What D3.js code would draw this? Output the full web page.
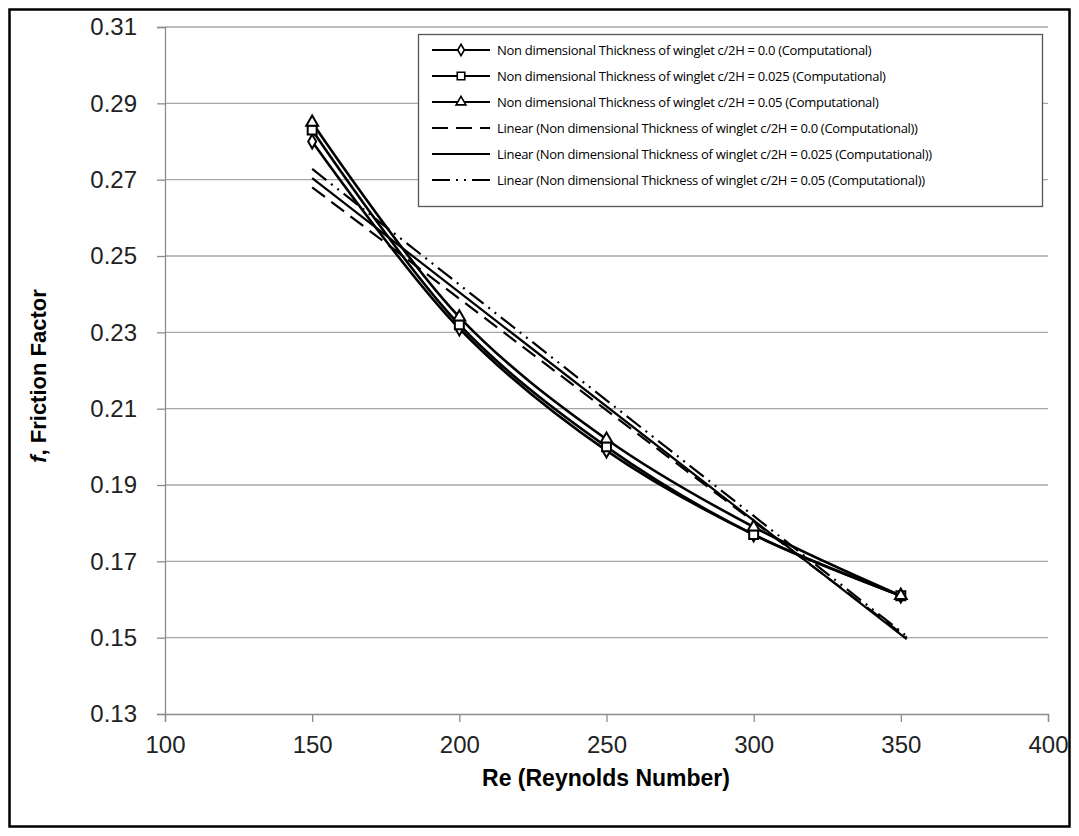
<!DOCTYPE html>
<html>
<head>
<meta charset="utf-8">
<script src="https://cdn.jsdelivr.net/npm/d3@7"></script>
<style>
  body { margin: 0; background: #fff; }
  svg { display: block; }
</style>
</head>
<body>
<div id="chart"></div>
<script>
// frame constants
const FRAME_WIDTH = 1079;
const FRAME_HEIGHT = 836;
const MARGINS = {left: 165, right: 31, top: 27, bottom: 122};

const VIS_WIDTH = FRAME_WIDTH - MARGINS.left - MARGINS.right;
const VIS_HEIGHT = FRAME_HEIGHT - MARGINS.top - MARGINS.bottom;

// data
const reynolds = [150, 200, 250, 300, 350];
const f_c000 = [0.280, 0.231, 0.199, 0.177, 0.161];
const f_c025 = [0.283, 0.232, 0.200, 0.177, 0.161];
const f_c050 = [0.285, 0.234, 0.202, 0.179, 0.161];

const xTicks = [100, 150, 200, 250, 300, 350, 400];
const yTicks = [0.13, 0.15, 0.17, 0.19, 0.21, 0.23, 0.25, 0.27, 0.29, 0.31];

const seriesNames = [
  "Non dimensional Thickness of winglet c/2H = 0.0 (Computational)",
  "Non dimensional Thickness of winglet c/2H = 0.025 (Computational)",
  "Non dimensional Thickness of winglet c/2H = 0.05 (Computational)"
];
const markers = ["diamond", "square", "triangle"];
const trendDash = ["16,8", null, "18,6,2,6,2,6"];

const FRAME = d3.select("#chart")
  .append("svg")
  .attr("width", FRAME_WIDTH)
  .attr("height", FRAME_HEIGHT);

// outer border
FRAME.append("rect")
  .attr("x", 9.5).attr("y", 9.5)
  .attr("width", FRAME_WIDTH - 19).attr("height", FRAME_HEIGHT - 19)
  .attr("fill", "none").attr("stroke", "#000").attr("stroke-width", 2.5);

const X_SCALE = d3.scaleLinear().domain([100, 400]).range([0, VIS_WIDTH]);
const Y_SCALE = d3.scaleLinear().domain([0.13, 0.31]).range([VIS_HEIGHT, 0]);

const G = FRAME.append("g")
  .attr("transform", "translate(" + MARGINS.left + "," + MARGINS.top + ")");

// gridlines
G.selectAll(".grid")
  .data(yTicks.slice(1))
  .enter()
  .append("line")
    .attr("x1", 0).attr("x2", VIS_WIDTH)
    .attr("y1", d => Y_SCALE(d)).attr("y2", d => Y_SCALE(d))
    .attr("stroke", "#a6a6a6").attr("stroke-width", 1.3);

// axes
const yAxis = G.append("g")
  .call(d3.axisLeft(Y_SCALE).tickValues(yTicks).tickFormat(d3.format(".2f")).tickSize(8).tickPadding(20));
const xAxis = G.append("g")
  .attr("transform", "translate(0," + VIS_HEIGHT + ")")
  .call(d3.axisBottom(X_SCALE).tickValues(xTicks).tickFormat(d3.format("d")).tickSize(8).tickPadding(14));

[yAxis, xAxis].forEach(ax => {
  ax.select(".domain").attr("stroke", "#8c8c8c").attr("stroke-width", 1.3);
  ax.selectAll(".tick line").attr("stroke", "#8c8c8c").attr("stroke-width", 1.3);
  ax.selectAll(".tick text")
    .attr("fill", "#222")
    .style("font-family", "Arial, 'Liberation Sans', sans-serif")
    .style("font-size", "24px");
});

// axis titles
FRAME.append("text")
  .attr("x", 606)
  .attr("y", 786)
  .attr("text-anchor", "middle")
  .style("font-family", "Arial, 'Liberation Sans', sans-serif")
  .style("font-size", "23px")
  .style("font-weight", "bold")
  .text("Re (Reynolds Number)");

const yTitle = FRAME.append("text")
  .attr("transform", "translate(46,376) rotate(-90)")
  .attr("text-anchor", "middle")
  .style("font-family", "Arial, 'Liberation Sans', sans-serif")
  .style("font-size", "22px")
  .style("font-weight", "bold");
yTitle.append("tspan").style("font-style", "italic").text("f");
yTitle.append("tspan").text(", Friction Factor");

const allSeries = [f_c000, f_c025, f_c050].map((vals, i) => ({
  name: seriesNames[i],
  marker: markers[i],
  points: reynolds.map((r, j) => [r, vals[j]])
}));

// linear trendlines (least squares through each series)
function fitLine(pts) {
  const mx = d3.mean(pts, d => d[0]);
  const my = d3.mean(pts, d => d[1]);
  const sxy = d3.sum(pts, d => (d[0] - mx) * (d[1] - my));
  const sxx = d3.sum(pts, d => (d[0] - mx) * (d[0] - mx));
  const b = sxy / sxx;
  return x => my + b * (x - mx);
}

const lineGen = d3.line()
  .x(d => X_SCALE(d[0]))
  .y(d => Y_SCALE(d[1]));

allSeries.forEach((s, i) => {
  const fn = fitLine(s.points);
  const ends = [[150, fn(150)], [352, fn(352)]];
  G.append("path")
    .attr("d", lineGen(ends))
    .attr("fill", "none")
    .attr("stroke", "#000")
    .attr("stroke-width", 2.2)
    .attr("stroke-dasharray", trendDash[i]);
});

// data series, smoothed
const smooth = d3.line()
  .x(d => X_SCALE(d[0]))
  .y(d => Y_SCALE(d[1]))
  .curve(d3.curveCatmullRom.alpha(0.5));

allSeries.forEach(s => {
  G.append("path")
    .attr("d", smooth(s.points))
    .attr("fill", "none")
    .attr("stroke", "#000")
    .attr("stroke-width", 2.6);
});

const symbolType = {
  diamond: d3.symbolDiamond,
  square: d3.symbolSquare,
  triangle: d3.symbolTriangle
};
const symbolSize = {diamond: 55, square: 80, triangle: 60};

allSeries.forEach(s => {
  G.selectAll(".pt-" + s.marker)
    .data(s.points)
    .enter()
    .append("path")
      .attr("transform", d => "translate(" + X_SCALE(d[0]) + "," + Y_SCALE(d[1]) + ")")
      .attr("d", d3.symbol().type(symbolType[s.marker]).size(symbolSize[s.marker]))
      .attr("fill", "#fff")
      .attr("stroke", "#000")
      .attr("stroke-width", 2);
});

// legend
const legendNames = seriesNames.concat(seriesNames.map(n => "Linear (" + n + ")"));
const LEG = FRAME.append("g").attr("transform", "translate(418,34)");
LEG.append("rect")
  .attr("x", 0.5).attr("y", 0.5)
  .attr("width", 624).attr("height", 172)
  .attr("fill", "#fff")
  .attr("stroke", "#555").attr("stroke-width", 1.3);

legendNames.forEach((name, i) => {
  const yy = 16 + i * 26;
  const row = LEG.append("g").attr("transform", "translate(0," + yy + ")");
  row.append("line")
    .attr("x1", 14).attr("x2", 72)
    .attr("y1", 0).attr("y2", 0)
    .attr("stroke", "#000")
    .attr("stroke-width", 2)
    .attr("stroke-dasharray", i < 3 ? null : trendDash[i - 3]);
  if (i < 3) {
    row.append("path")
      .attr("transform", "translate(43,0)")
      .attr("d", d3.symbol().type(symbolType[markers[i]]).size(symbolSize[markers[i]] * 0.7))
      .attr("fill", "#fff").attr("stroke", "#000").attr("stroke-width", 1.6);
  }
  row.append("text")
    .attr("x", 79).attr("y", 5)
    .style("font-family", "'Open Sans', 'Noto Sans', sans-serif")
    .style("font-size", "13px")
    .style("letter-spacing", "-0.3px")
    .attr("fill", "#000")
    .text(name);
});
</script>
</body>
</html>
